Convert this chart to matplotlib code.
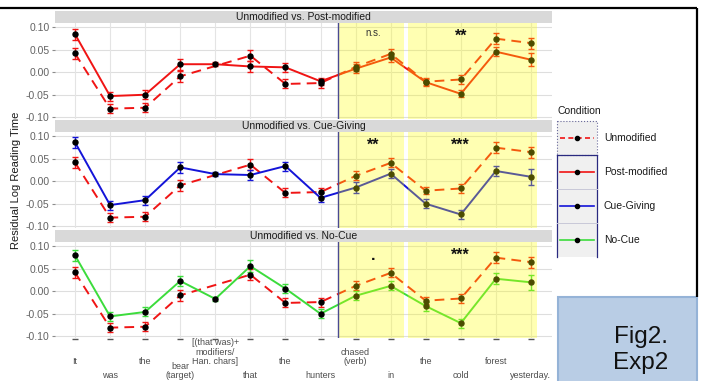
import numpy as np
import matplotlib
matplotlib.use("Agg")
import matplotlib.pyplot as plt
from matplotlib import transforms
from matplotlib.patches import Rectangle

plt.rcParams['font.family'] = ['Liberation Sans', 'DejaVu Sans']

# ---- data -------------------------------------------------------------
words = ["It", "was", "the", "bear\n(target)",
         "[(that was)+\nmodifiers/\nHan. chars]", "that", "the", "hunters",
         "chased\n(verb)", "in", "the", "cold", "forest", "yesterday."]

unmodified = [0.042, -0.081, -0.079, -0.009, np.nan, 0.037, -0.026, -0.024,
              0.012, 0.041, -0.021, -0.016, 0.075, 0.065]
unmodified_se = [0.012, 0.010, 0.010, 0.012, np.nan, 0.012, 0.010, 0.010,
                 0.010, 0.010, 0.008, 0.010, 0.012, 0.012]

post_modified = [0.085, -0.053, -0.050, 0.018, 0.018, 0.013, 0.011, -0.020,
                 0.008, 0.033, -0.022, -0.048, 0.046, 0.028]
post_modified_se = [0.012, 0.010, 0.010, 0.012, 0.004, 0.012, 0.010, 0.008,
                    0.010, 0.010, 0.008, 0.008, 0.010, 0.015]

cue_giving = [0.087, -0.053, -0.042, 0.031, 0.016, 0.014, 0.034, -0.037,
              -0.014, 0.017, -0.050, -0.074, 0.023, 0.010]
cue_giving_se = [0.012, 0.010, 0.010, 0.012, 0.004, 0.012, 0.010, 0.010,
                 0.012, 0.010, 0.010, 0.010, 0.012, 0.018]

no_cue = [0.080, -0.056, -0.046, 0.023, -0.017, 0.056, 0.006, -0.050,
          -0.010, 0.012, -0.033, -0.071, 0.028, 0.020]
no_cue_se = [0.012, 0.010, 0.010, 0.012, 0.004, 0.013, 0.010, 0.010,
             0.010, 0.010, 0.010, 0.010, 0.012, 0.017]

panel_titles = ["Unmodified vs. Post-modified", "Unmodified vs. Cue-Giving",
                "Unmodified vs. No-Cue"]
sig_verb = ["n.s.", "**", "."]
sig_end = ["**", "***", "***"]
legend_labels = ["Unmodified", "Post-modified", "Cue-Giving", "No-Cue"]

RED, BLUE, GREEN = "#F01414", "#1414D8", "#3CDC3C"
conditions = [(post_modified, post_modified_se, RED),
              (cue_giving, cue_giving_se, BLUE),
              (no_cue, no_cue_se, GREEN)]

# ---- figure -----------------------------------------------------------
W, H = 703, 381
fig = plt.figure(figsize=(W / 100, H / 100), dpi=100)


def rect(l, t, r, b):
    return [l / W, 1 - b / H, (r - l) / W, (b - t) / H]


x = np.arange(1, len(words) + 1)
unmod = np.array(unmodified)
unmod_se = np.array(unmodified_se)
has_unmod = ~np.isnan(unmod)

left, right = 55, 552
tops = [22.5, 131.5, 241.5]
ph = 96
yt = [-0.10, -0.05, 0.0, 0.05, 0.10]

axes = []
for i, (vals, se, col) in enumerate(conditions):
    top = tops[i]
    ax = fig.add_axes(rect(left, top, right, top + ph))
    axes.append(ax)
    ax.set_xlim(0.43, 14.6)
    ax.set_ylim(-0.103, 0.111)
    ax.set_facecolor("white")
    for s in ax.spines.values():
        s.set_visible(False)
    ax.set_xticks([])
    ax.set_yticks(yt)
    ax.set_yticklabels([f"{v:.2f}" for v in yt])
    ax.tick_params(axis="y", length=2.5, width=0.8, color="#8C8C8C",
                   labelsize=7.5, labelcolor="#636363", pad=1.5)
    for v in yt:
        ax.axhline(v, color="#DEDEDE", lw=0.8, zorder=0)
    for xi in x:
        ax.axvline(xi, color="#E4E4E4", lw=0.8, zorder=0)

    # unmodified baseline (dashed)
    ax.plot(x[has_unmod], unmod[has_unmod], color=RED, lw=1.4,
            dashes=(5.0, 3.2), zorder=3)
    ax.errorbar(x[has_unmod], unmod[has_unmod], yerr=unmod_se[has_unmod],
                fmt="none", ecolor=RED, elinewidth=1.0, capsize=2.5,
                capthick=1.0, zorder=3)
    # comparison condition (solid)
    vals = np.array(vals)
    ax.plot(x, vals, color=col, lw=1.4, zorder=4)
    ax.errorbar(x, vals, yerr=se, fmt="none", ecolor=col, elinewidth=1.0,
                capsize=2.5, capthick=1.0, zorder=4)
    ax.plot(x[has_unmod], unmod[has_unmod], "o", color="black", ms=3.6,
            zorder=5)
    ax.plot(x, vals, "o", color="black", ms=3.6, zorder=5)

    # highlighted regions
    ax.axvspan(8.5, 10.38, color="#FFFF00", alpha=0.3, lw=0, zorder=6)
    ax.axvspan(10.5, 14.18, color="#FFFF00", alpha=0.3, lw=0, zorder=6)
    ax.axvline(8.5, color="#4A4A92", lw=1.0, zorder=7)

    if sig_verb[i] == "n.s.":
        ax.text(9.5, 0.088, sig_verb[i], ha="center", va="center",
                fontsize=7, color="#333333", zorder=8)
    else:
        ax.text(9.5, 0.080, sig_verb[i], ha="center", va="center",
                fontsize=11.5, fontweight="bold", color="#111111", zorder=8)
    ax.text(12.0, 0.080, sig_end[i], ha="center", va="center",
            fontsize=11.5, fontweight="bold", color="#111111", zorder=8)

    # facet strip
    sax = fig.add_axes(rect(left, top - 11.5, right, top))
    sax.set_facecolor("#D9D9D9")
    sax.set_xticks([])
    sax.set_yticks([])
    for s in sax.spines.values():
        s.set_visible(False)
    sax.text(0.5, 0.45, panel_titles[i], ha="center", va="center",
             fontsize=7.5, color="#1A1A1A", transform=sax.transAxes)

fig.text(16 / W, 1 - 180 / H, "Residual Log Reading Time", rotation=90,
         ha="center", va="center", fontsize=8, color="#1A1A1A")

# ---- overlay in pixel coordinates -------------------------------------
ov = fig.add_axes([0, 0, 1, 1], zorder=10)
ov.set_xlim(0, W)
ov.set_ylim(H, 0)
ov.axis("off")
ov.patch.set_alpha(0)

trans = transforms.blended_transform_factory(axes[-1].transData, ov.transData)

# x-axis tick marks and staggered labels
ov.plot(x, np.full(len(x), 339.0), transform=trans, ls="none", marker="_",
        ms=5, mew=1.0, color="#555555")
for i, w in enumerate(words):
    ybot = 366 if i % 2 == 0 else 380.5
    ov.text(x[i], ybot, w, transform=trans, ha="center", va="bottom",
            fontsize=6.5, color="#4D4D4D", linespacing=1.05,
            multialignment="center")

# legend
ov.text(558, 111, "Condition", ha="left", va="center", fontsize=7.5,
        color="#1A1A1A")
kx0, kw, ky0, kh = 557, 40, 121, 34
for k, lab in enumerate(legend_labels):
    y0 = ky0 + k * kh
    ov.add_patch(Rectangle((kx0, y0), kw, kh, facecolor="#F0F0F0",
                           edgecolor="none"))
    yc = y0 + kh / 2
    if k == 0:
        ov.plot([kx0 + 3, kx0 + kw - 3], [yc, yc], color=RED, lw=1.2,
                dashes=(3, 2))
    else:
        ov.plot([kx0 + 3, kx0 + kw - 3], [yc, yc],
                color=[RED, BLUE, GREEN][k - 1], lw=1.2)
    ov.plot([kx0 + kw / 2], [yc], "o", color="black", ms=3)
    ov.text(604, yc, lab, ha="left", va="center", fontsize=7.5,
            color="#1A1A1A")
ov.add_patch(Rectangle((kx0, ky0), kw, kh, facecolor="none",
                       edgecolor="#6A6A9A", lw=0.8, ls=":"))
ov.plot([kx0, kx0], [ky0 + kh, ky0 + 4 * kh], color="#2A2A80", lw=0.9)
ov.plot([kx0 + kw, kx0 + kw], [ky0 + kh, ky0 + 4 * kh], color="#2A2A80",
        lw=0.9)
ov.plot([kx0, kx0 + kw], [ky0 + kh, ky0 + kh], color="#2A2A80", lw=0.9)
for k in (2, 3):
    ov.plot([kx0, kx0 + kw], [ky0 + k * kh] * 2, color="#C8C8D8", lw=0.7)

# frame lines
ov.plot([0, 697], [8, 8], color="black", lw=1.6, solid_capstyle="butt")
ov.plot([697, 697], [8, 297], color="black", lw=1.6, solid_capstyle="butt")

# figure tag box
ov.add_patch(Rectangle((558, 297), 139, 95, facecolor="#B9CDE5",
                       edgecolor="#95B3D7", lw=1.5, clip_on=False))
ov.text(641, 343, "Fig2.", ha="center", va="baseline", fontsize=17.5,
        color="#111111")
ov.text(641, 369, "Exp2", ha="center", va="baseline", fontsize=17.5,
        color="#111111")

fig.savefig("out.png", dpi=100)
